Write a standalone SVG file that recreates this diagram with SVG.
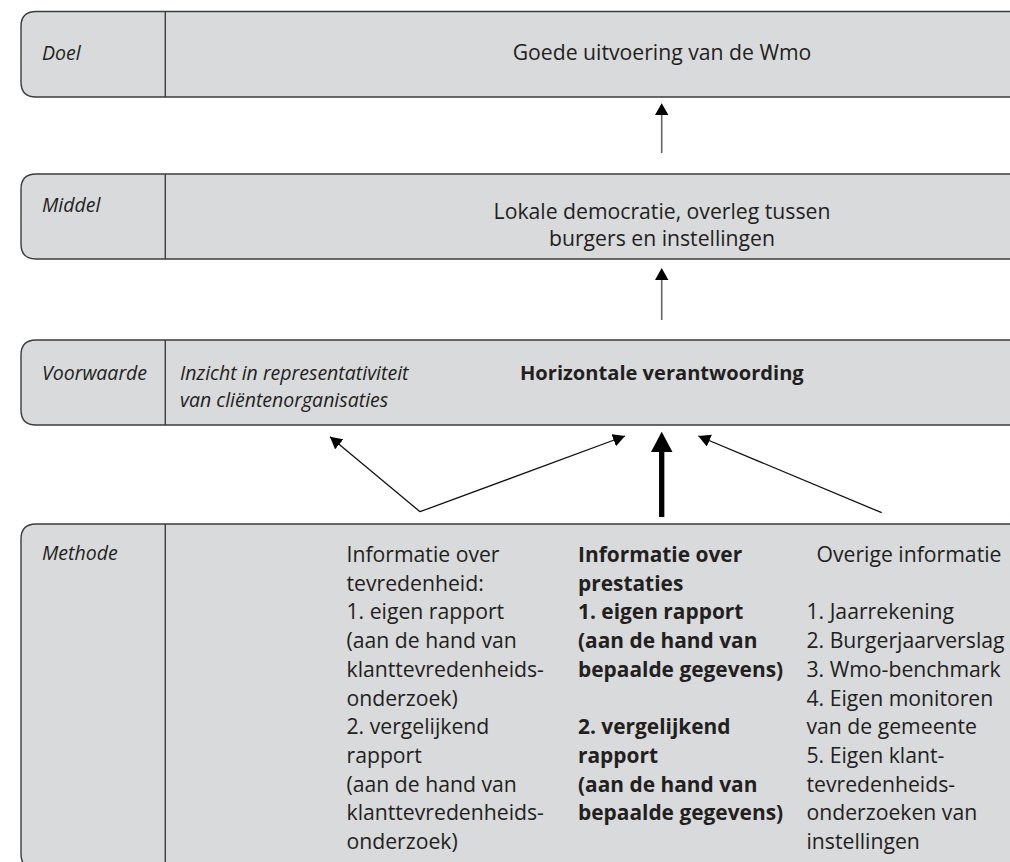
<svg xmlns="http://www.w3.org/2000/svg" width="1010" height="862" viewBox="0 0 1010 862">
  <style>
    .box { fill: #d9dadc; stroke: #3c3c3c; stroke-width: 1.4; }
    .div { stroke: #3c3c3c; stroke-width: 1.4; }
    text { font-family: "Open Sans", "Liberation Sans", sans-serif; fill: #231f20; }
    .t { font-size: 21.2px; }
    .b { font-size: 20.1px; font-weight: bold; }
    .b2 { font-size: 20.9px; font-weight: bold; }
    .lab { font-size: 19.5px; font-style: italic; }
    .thin { stroke: #111; stroke-width: 1.3; fill: none; }
    .shaft { stroke: #666; stroke-width: 1.6; fill: none; }
  </style>
  <defs>
    <marker id="ah" viewBox="0 0 12 13" refX="12" refY="6.5" markerWidth="12" markerHeight="13" markerUnits="userSpaceOnUse" orient="auto">
      <path d="M0,0 L12,6.5 L0,13 Z" fill="#000"/>
    </marker>
  </defs>
  <rect width="1010" height="862" fill="#ffffff"/>

  <g id="doel">
    <path class="box" d="M1030,11.5 L36,11.5 Q21,11.5 21,26.5 L21,82 Q21,97 36,97 L1030,97"/>
    <line class="div" x1="165.3" y1="11.5" x2="165.3" y2="97"/>
    <text class="lab" x="42" y="60">Doel</text>
    <text class="t" x="662" y="60" text-anchor="middle">Goede uitvoering van de Wmo</text>
  </g>

  <g id="middel">
    <path class="box" d="M1030,174 L36,174 Q21,174 21,189 L21,244 Q21,259 36,259 L1030,259"/>
    <line class="div" x1="165.3" y1="174" x2="165.3" y2="259"/>
    <text class="lab" x="42" y="211.7">Middel</text>
    <text class="t" x="662" y="219" text-anchor="middle">Lokale democratie, overleg tussen</text>
    <text class="t" x="662" y="246" text-anchor="middle">burgers en instellingen</text>
  </g>

  <g id="voorwaarde">
    <path class="box" d="M1030,340 L36,340 Q21,340 21,355 L21,410 Q21,425 36,425 L1030,425"/>
    <line class="div" x1="165.3" y1="340" x2="165.3" y2="425"/>
    <text class="lab" x="42" y="380">Voorwaarde</text>
    <text class="lab" x="180" y="380">Inzicht in representativiteit</text>
    <text class="lab" x="180" y="406.7">van cliëntenorganisaties</text>
    <text class="b" x="520" y="380">Horizontale verantwoording</text>
  </g>

  <g id="methode">
    <path class="box" d="M1030,524 L36,524 Q21,524 21,539 L21,854 Q21,869 36,869 L1030,869"/>
    <line class="div" x1="165.3" y1="524" x2="165.3" y2="869"/>
    <text class="lab" x="42" y="560">Methode</text>
    <text class="t" x="346.5">
      <tspan x="346.5" y="562">Informatie over</tspan>
      <tspan x="346.5" y="590.7">tevredenheid:</tspan>
      <tspan x="346.5" y="619.4">1. eigen rapport</tspan>
      <tspan x="346.5" y="648.1">(aan de hand van</tspan>
      <tspan x="346.5" y="676.8">klanttevredenheids-</tspan>
      <tspan x="346.5" y="705.5">onderzoek)</tspan>
      <tspan x="346.5" y="734.2">2. vergelijkend</tspan>
      <tspan x="346.5" y="762.9">rapport</tspan>
      <tspan x="346.5" y="791.6">(aan de hand van</tspan>
      <tspan x="346.5" y="820.3">klanttevredenheids-</tspan>
      <tspan x="346.5" y="849">onderzoek)</tspan>
    </text>
    <text class="b2" x="578">
      <tspan x="578" y="562">Informatie over</tspan>
      <tspan x="578" y="590.7">prestaties</tspan>
      <tspan x="578" y="619.4">1. eigen rapport</tspan>
      <tspan x="578" y="648.1">(aan de hand van</tspan>
      <tspan x="578" y="676.8">bepaalde gegevens)</tspan>
      <tspan x="578" y="734.2">2. vergelijkend</tspan>
      <tspan x="578" y="762.9">rapport</tspan>
      <tspan x="578" y="791.6">(aan de hand van</tspan>
      <tspan x="578" y="820.3">bepaalde gegevens)</tspan>
    </text>
    <text class="t" x="806.5">
      <tspan x="816.5" y="562">Overige informatie</tspan>
      <tspan x="806.5" y="619.4">1. Jaarrekening</tspan>
      <tspan x="806.5" y="648.1">2. Burgerjaarverslag</tspan>
      <tspan x="806.5" y="676.8">3. Wmo-benchmark</tspan>
      <tspan x="806.5" y="705.5">4. Eigen monitoren</tspan>
      <tspan x="806.5" y="734.2">van de gemeente</tspan>
      <tspan x="806.5" y="762.9">5. Eigen klant-</tspan>
      <tspan x="806.5" y="791.6">tevredenheids-</tspan>
      <tspan x="806.5" y="820.3">onderzoeken van</tspan>
      <tspan x="806.5" y="849">instellingen</tspan>
    </text>
  </g>

  <g id="connectors">
    <line class="shaft" x1="661.7" y1="153" x2="661.7" y2="114"/>
    <path d="M661.7,103.3 L668.4,115 L655,115 Z" fill="#000"/>
    <line class="shaft" x1="661.7" y1="320" x2="661.7" y2="279"/>
    <path d="M661.7,268 L668.4,280 L655,280 Z" fill="#000"/>
    <line x1="661.7" y1="517" x2="661.7" y2="450" stroke="#000" stroke-width="5.3"/>
    <path d="M661.7,431.7 L672.5,452 L651,452 Z" fill="#000"/>
    <line class="thin" x1="420" y1="511.7" x2="330" y2="436.7" marker-end="url(#ah)"/>
    <line class="thin" x1="420" y1="511.7" x2="625" y2="436" marker-end="url(#ah)"/>
    <line class="thin" x1="881.7" y1="512.7" x2="698.3" y2="436" marker-end="url(#ah)"/>
  </g>
</svg>
